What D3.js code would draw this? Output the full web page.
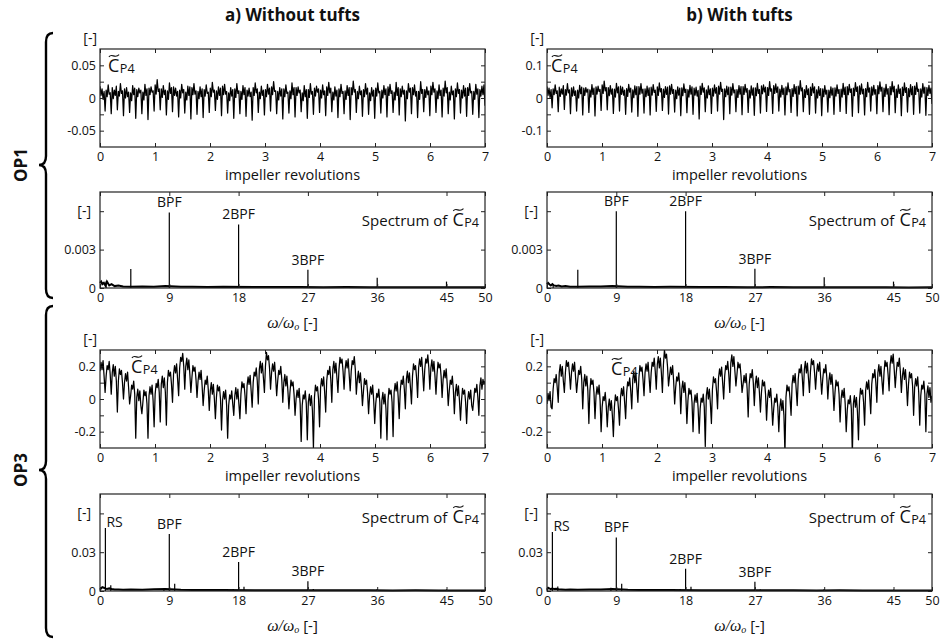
<!DOCTYPE html>
<html>
<head>
<meta charset="utf-8">
<script src="https://cdn.jsdelivr.net/npm/d3@7"></script>
<style>
  body { margin: 0; background: #fff; }
  text { font-family: 'Open Sans', 'Noto Sans', sans-serif; fill: #111; }
</style>
</head>
<body>
<svg id="chart" width="944" height="641"></svg>
<script>
// ---------- axis ticks ----------
const revTicks = [0, 1, 2, 3, 4, 5, 6, 7];
const freqTicks = [0, 9, 18, 27, 36, 45, 50];
const op1TimeTicksA = [-0.05, -0.025, 0, 0.025, 0.05];
const op1TimeLabelsA = [-0.05, 0, 0.05];
const op1TimeTicksB = [-0.1, -0.05, 0, 0.05, 0.1];
const op1TimeLabelsB = [-0.1, 0, 0.1];
const op3TimeTicks = [-0.2, -0.1, 0, 0.1, 0.2];
const op3TimeLabels = [-0.2, 0, 0.2];
const op1SpecTicks = [0, 0.003, 0.006];
const op1SpecLabels = [0, 0.003];
const op3SpecTicks = [0, 0.03, 0.06];
const op3SpecLabels = [0, 0.03];

// ---------- pressure coefficient signals (values in thousandths), 7 impeller revolutions ----------
const op1WithoutTufts = [
  18,4,14,-2,10,-20, 12,2,20,6,8,-24, 16,-1,12,4,18,-18, 10,3,22,7,11,-27, 14,0,16,2,9,-22, 8,-4,19,5,15,-31, 13,2,15,8,12,-24, 9,-3,21,4,14,-33, 15,5,17,9,11,-20,
  20,6,28,10,14,-18, 14,1,19,5,12,-26, 11,-2,23,7,16,-21, 17,4,15,3,10,-29, 12,0,21,8,13,-23, 9,-3,18,4,17,-32, 16,5,22,6,11,-25, 10,-1,17,2,14,-30, 13,3,20,7,9,-22,
  15,2,24,9,12,-19, 11,-2,17,4,15,-27, 18,5,21,6,10,-23, 8,-4,16,3,13,-31, 14,1,22,7,11,-24, 10,-2,19,5,16,-28, 12,3,15,2,9,-34, 16,4,23,8,14,-22, 9,-1,18,4,12,-26,
  13,2,21,6,15,-20, 17,5,25,10,11,-24, 10,-3,16,3,14,-32, 14,2,20,7,9,-23, 11,-1,23,5,16,-29, 16,4,17,8,12,-21, 8,-4,19,2,13,-31, 13,1,22,6,10,-25, 15,3,18,9,14,-22,
  12,0,20,5,11,-27, 17,4,24,8,15,-21, 9,-3,17,3,12,-30, 14,2,21,7,10,-24, 11,-2,19,4,16,-33, 16,5,26,9,13,-22, 10,-1,18,5,11,-28, 13,2,22,6,15,-25, 8,-4,16,3,12,-31,
  15,3,23,8,10,-23, 12,0,19,5,14,-29, 17,4,21,7,11,-22, 9,-3,24,4,16,-26, 14,2,18,6,12,-35, 11,-1,22,9,15,-24, 16,5,20,3,10,-30, 10,-2,25,7,13,-21, 13,1,17,5,11,-27,
  18,5,24,9,14,-22, 11,-1,20,4,12,-29, 15,3,26,8,16,-24, 9,-3,18,5,11,-32, 14,2,23,7,13,-23, 12,0,19,3,15,-28, 16,4,22,8,10,-25, 10,-2,21,6,14,-30, 13,3,18,5,20,-12
];
const op1WithTufts = [
  35,8,30,2,26,-30, 28,10,40,14,22,-42, 33,5,28,12,38,-35, 26,9,44,16,25,-48, 31,6,34,8,22,-40, 24,0,39,13,33,-52, 30,8,32,18,27,-44, 25,3,41,11,30,-55, 34,12,36,20,26,-38,
  40,14,52,22,32,-36, 32,7,38,12,28,-47, 27,3,45,16,34,-40, 36,11,33,9,24,-50, 29,5,42,18,30,-43, 25,1,37,10,35,-56, 35,12,44,15,27,-46, 28,4,36,8,31,-52, 33,9,41,17,24,-41,
  34,8,46,19,29,-38, 27,2,35,11,33,-49, 37,12,42,14,26,-43, 24,-2,34,9,30,-54, 31,7,43,17,27,-45, 26,3,39,12,34,-50, 30,9,33,6,23,-64, 36,11,45,18,31,-42, 25,0,37,10,28,-47,
  30,6,40,15,32,-40, 36,12,48,20,27,-66, 28,4,36,10,33,-48, 33,9,44,16,25,-42, 26,2,38,12,35,-51, 35,11,42,18,29,-44, 24,0,37,9,31,-53, 31,7,45,14,26,-46, 37,13,40,19,33,-41,
  32,8,50,21,28,-47, 38,14,43,17,34,-40, 27,3,39,11,30,-52, 34,10,46,19,26,-44, 29,5,41,13,35,-55, 36,12,53,22,31,-42, 26,2,38,10,28,-50, 33,8,44,16,34,-46, 25,0,35,8,29,-54,
  28,4,38,12,24,-43, 24,1,34,9,30,-50, 31,6,40,14,26,-41, 27,3,45,11,33,-47, 35,10,42,17,28,-56, 30,7,47,20,34,-45, 37,12,43,13,27,-52, 29,4,48,18,31,-40, 34,9,39,12,26,-48,
  38,13,49,21,33,-42, 30,5,42,12,29,-51, 35,10,50,19,36,-45, 27,2,40,14,28,-54, 33,8,46,17,32,-43, 29,4,41,10,35,-50, 36,11,47,20,27,-46, 28,3,44,15,33,-53, 32,8,39,14,30,-18
];
const op3WithoutTufts = [
  170,225,180,235,140,40, 140,205,180,230,150,30, 160,210,140,200,110,-80, 110,185,150,175,100,0, 100,155,110,165,70,-30, 20,85,60,110,30,-240, 10,60,-10,50,-40,-90, -20,55,20,45,-30,-240, 20,75,30,85,-10,-170,
  30,95,70,120,40,-140, 90,140,70,130,40,-160, 100,175,140,165,90,-20, 150,205,160,215,120,20, 190,255,230,280,200,60, 200,250,180,240,150,40, 130,205,170,195,120,10, 110,165,120,175,80,-40, 50,115,90,140,60,-70,
  50,100,30,90,0,-120, 10,85,50,75,0,-190, -10,45,0,55,-40,-240, -40,25,0,50,-30,-100, 20,70,0,60,-30,-120, 30,105,70,95,20,-90, 80,135,90,145,50,-50, 100,165,140,190,110,-30, 180,230,160,220,130,40,
  200,285,240,265,190,60, 160,215,170,225,130,20, 110,175,150,200,120,-20, 100,150,80,140,50,-60, 40,115,80,105,30,-100, 0,55,10,65,-30,-260, -40,25,0,50,-30,-250, -20,30,-40,20,-70,-300, 10,85,50,75,0,-170,
  70,125,80,135,40,-80, 110,175,150,200,120,-20, 180,230,160,220,130,40, 180,255,220,245,170,60, 180,235,190,245,150,50, 170,235,210,260,180,30, 120,170,100,160,70,-40, 50,125,90,115,40,-90, 20,75,30,85,-10,-150,
  -30,35,10,60,-20,-240, -10,40,-30,30,-60,-250, -10,65,30,55,-20,-230, 40,95,50,105,10,-120, 50,115,90,140,60,-60, 120,170,100,160,70,-30, 140,215,180,205,130,10, 190,245,200,255,160,50, 180,245,220,270,190,60,
  190,240,170,230,140,30, 150,225,190,215,140,10, 120,175,130,185,90,-40, 50,115,90,140,60,-90, 40,90,20,80,-10,-130, -10,65,30,55,-20,-150, -10,45,0,55,-40,-70, 0,65,40,90,10,-100, 80,130,60,120,90,110
];
const op3WithTufts = [
  -30,35,-10,45,-50,-60, 60,125,100,150,70,-20, 160,210,140,200,110,40, 160,235,200,225,150,60, 160,215,170,225,130,40, 110,175,150,200,120,-60, 100,150,80,140,50,-150, 50,125,90,115,40,-120, 20,75,30,85,-10,-200,
  -50,15,-10,40,-40,-170, -50,0,-70,-10,-100,-230, -50,25,-10,15,-60,-160, 10,65,20,75,-20,-120, 40,105,80,130,50,-60, 120,170,100,160,70,-20, 130,205,170,195,120,20, 160,215,170,225,130,40, 160,225,200,250,170,60,
  210,260,190,250,160,40, 210,300,250,275,200,80, 140,195,150,205,110,-30, 70,135,110,160,80,-90, 60,110,40,100,10,-150, -10,65,30,55,-20,-200, -30,25,-20,35,-60,-210, -60,5,-20,30,-50,-290, 20,70,0,60,-30,-150,
  60,135,100,125,50,-60, 130,185,140,195,100,0, 140,205,180,230,150,40, 220,270,200,260,170,80, 150,225,190,215,140,40, 90,145,100,155,60,-110, 90,155,130,180,100,-40, 90,140,70,130,40,-80, 40,115,80,105,30,-130,
  0,55,10,65,-30,-160, -60,5,-20,30,-50,-200, -50,0,-70,-10,-100,-330, 10,85,50,75,0,-100, 90,145,100,155,60,-40, 120,185,160,210,130,20, 180,230,160,220,130,40, 170,245,210,235,160,60, 160,215,170,225,130,30,
  120,185,160,210,130,0, 110,160,90,150,60,-70, 40,115,80,105,30,-140, 0,55,10,65,-30,-200, -70,-5,-30,20,-60,-340, -30,20,-50,10,-80,-250, -10,65,30,55,-20,-160, 50,105,60,115,20,-90, 90,155,130,180,100,-20,
  160,210,140,200,110,30, 160,235,200,225,150,50, 210,265,220,275,180,70, 160,225,200,250,170,40, 140,190,120,180,90,-40, 90,165,130,155,80,-100, 70,125,80,135,40,-160, 20,85,60,110,30,-200, 30,80,10,70,-20,20
];

// ---------- spectra ----------
const floorFreqs = [0, 0.15, 0.3, 0.5, 0.7, 0.9, 1.2, 1.5, 1.9, 2.4, 3, 4, 5.5, 7, 8.5, 10.5, 12, 14, 16, 20, 23, 26, 29, 32, 35, 38, 41, 44, 47, 50];
const op1FloorWithout = [0.0004, 0.0005, 0.0003, 0.0004, 0.0002, 0.0005, 0.0002, 0.0003, 0.00015, 0.0002, 0.00012, 0.0001, 0.00012, 0.0001, 0.00015, 0.0001, 0.0001, 0.00008, 0.0001, 0.00008, 0.00007, 0.00008, 0.00006, 0.00007, 0.00006, 0.00005, 0.00006, 0.00005, 0.00005, 0.00005];
const op1FloorWith = [0.0003, 0.0004, 0.0003, 0.0002, 0.0003, 0.0002, 0.00015, 0.0002, 0.00012, 0.00015, 0.0001, 0.0001, 0.00012, 0.00012, 0.00015, 0.0001, 0.0001, 0.00008, 0.00009, 0.00007, 0.00008, 0.00006, 0.00007, 0.00006, 0.00005, 0.00006, 0.00005, 0.00005, 0.00004, 0.00005];
const op3FloorWithout = [0.001, 0.002, 0.003, 0.0025, 0.002, 0.0015, 0.002, 0.0015, 0.0012, 0.0012, 0.001, 0.0012, 0.001, 0.0013, 0.0015, 0.0009, 0.0008, 0.0007, 0.0008, 0.0006, 0.0006, 0.0005, 0.0006, 0.0005, 0.0005, 0.0004, 0.0005, 0.0004, 0.0004, 0.0004];
const op3FloorWith = [0.001, 0.0025, 0.002, 0.0015, 0.002, 0.0015, 0.0018, 0.0013, 0.0012, 0.001, 0.0011, 0.001, 0.0012, 0.0012, 0.0016, 0.0009, 0.0008, 0.0008, 0.0007, 0.0006, 0.0005, 0.0006, 0.0005, 0.0005, 0.0004, 0.0005, 0.0004, 0.0004, 0.0004, 0.0004];

const op1PeakFreqs = [0.8, 4, 9, 18, 27, 36, 45];
const op1PeaksWithout = [0.0005, 0.00148, 0.0059, 0.00497, 0.00142, 0.00081, 0.0005];
const op1PeaksWith = [0.0003, 0.00142, 0.0060, 0.0060, 0.0015, 0.00084, 0.0005];
const op3PeakFreqs = [0.7, 1.4, 8.3, 9, 9.7, 17.3, 18, 18.7, 27, 27.7, 36, 45];
const op3PeaksWithout = [0.0487, 0.0045, 0.002, 0.044, 0.0056, 0.0015, 0.0225, 0.0033, 0.0076, 0.0015, 0.0015, 0.0012];
const op3PeaksWith = [0.0456, 0.0035, 0.0025, 0.0414, 0.0056, 0.0015, 0.0173, 0.0033, 0.0072, 0.0012, 0.0015, 0.001];

const op1PeakLabels = [{text: 'BPF', f: 9}, {text: '2BPF', f: 18}, {text: '3BPF', f: 27}];
const op3PeakLabels = [{text: 'RS', f: 0.7, side: true}, {text: 'BPF', f: 9}, {text: '2BPF', f: 18}, {text: '3BPF', f: 27}];

// ---------- layout ----------
const svg = d3.select('#chart');
const columns = [{ left: 100, right: 485 }, { left: 547, right: 932 }];
const rows = {
  op1Time: { top: 49, bottom: 147 },
  op1Spec: { top: 192, bottom: 288 },
  op3Time: { top: 350, bottom: 448 },
  op3Spec: { top: 494, bottom: 591 }
};
const tickFont = 12.5;

const fmtLabel = labels => v => labels.some(l => Math.abs(l - v) < 1e-9) ? String(v) : '';

function drawFrame(g, x, y, xTicks, yTicks, yLabels) {
  const [x0, x1] = x.range();
  const [yb, yt] = y.range();
  const setup = sel => { sel.select('.domain').remove(); sel.selectAll('line').attr('stroke', '#222'); sel.selectAll('text').style('font-size', tickFont + 'px').attr('fill', '#111'); };
  g.append('g').attr('transform', `translate(0,${yb})`)
    .call(d3.axisBottom(x).tickValues(xTicks).tickSize(-4).tickSizeOuter(0).tickPadding(5).tickFormat(d3.format('d'))).call(setup);
  g.append('g').attr('transform', `translate(0,${yt})`)
    .call(d3.axisTop(x).tickValues(xTicks).tickSize(-4).tickSizeOuter(0).tickFormat('')).call(setup);
  g.append('g').attr('transform', `translate(${x0},0)`)
    .call(d3.axisLeft(y).tickValues(yTicks).tickSize(-4).tickSizeOuter(0).tickPadding(4).tickFormat(fmtLabel(yLabels))).call(setup);
  g.append('g').attr('transform', `translate(${x1},0)`)
    .call(d3.axisRight(y).tickValues(yTicks).tickSize(-4).tickSizeOuter(0).tickFormat('')).call(setup);
  g.append('rect').attr('x', x0).attr('y', yt).attr('width', x1 - x0).attr('height', yb - yt)
    .attr('fill', 'none').attr('stroke', '#222').attr('stroke-width', 1.2);
}

// C with tilde and subscript P4; y is the baseline
function cpSymbol(g, x, y, size) {
  const grp = g.append('g').attr('transform', `translate(${x},${y})`);
  const c = grp.append('text').style('font-size', size + 'px').text('C');
  const cw = c.node().getComputedTextLength();
  grp.append('path')
    .attr('d', `M${cw * 0.08},${-size * 0.84} C${cw * 0.35},${-size * 1.08} ${cw * 0.6},${-size * 0.7} ${cw * 0.98},${-size * 0.96}`)
    .attr('fill', 'none').attr('stroke', '#111').attr('stroke-width', 1.1);
  const p = grp.append('text').attr('x', cw + 0.5).attr('y', 0.5).style('font-size', (size * 0.7) + 'px').text('P4');
  return cw + 0.5 + p.node().getComputedTextLength();
}

function unitLabel(g, x, y, anchor) {
  g.append('text').attr('x', x).attr('y', y).attr('text-anchor', anchor).style('font-size', '14px').text('[-]');
}

function timePanel(col, row, values, domain, ticks, labels, symbolPos) {
  const g = svg.append('g');
  const x = d3.scaleLinear().domain([0, 7]).range([col.left, col.right]);
  const y = d3.scaleLinear().domain(domain).range([row.bottom, row.top]);
  const id = `clip${col.left}_${row.top}`;
  svg.append('clipPath').attr('id', id).append('rect')
    .attr('x', col.left).attr('y', row.top).attr('width', col.right - col.left).attr('height', row.bottom - row.top);
  const n = values.length;
  const line = d3.line().x((d, i) => x(7 * i / (n - 1))).y(d => y(d / 1000));
  g.append('path').datum(values).attr('d', line).attr('clip-path', `url(#${id})`)
    .attr('fill', 'none').attr('stroke', '#000').attr('stroke-width', 1.25).attr('stroke-linejoin', 'round');
  drawFrame(g, x, y, revTicks, ticks, labels);
  g.append('text').attr('x', (col.left + col.right) / 2).attr('y', row.bottom + 33)
    .attr('text-anchor', 'middle').style('font-size', '14.5px').text('impeller revolutions');
  unitLabel(g, col.left - 3, row.top - 6, 'end');
  cpSymbol(g, col.left + symbolPos[0], row.top + symbolPos[1], 18);
}

function specPanel(col, row, floor, peakFreqs, peaks, domain, ticks, labels, peakLabels, yTop) {
  const g = svg.append('g');
  const x = d3.scaleLinear().domain([0, 50]).range([col.left, col.right]);
  const y = d3.scaleLinear().domain(domain).range([row.bottom, row.top]);
  const line = d3.line().x((d, i) => x(floorFreqs[i])).y(d => y(d));
  g.append('path').datum(floor).attr('d', line).attr('fill', 'none').attr('stroke', '#000').attr('stroke-width', 2);
  g.selectAll('line.peak').data(peaks).join('line').attr('class', 'peak')
    .attr('x1', (d, i) => x(peakFreqs[i])).attr('x2', (d, i) => x(peakFreqs[i]))
    .attr('y1', y(0)).attr('y2', d => y(d)).attr('stroke', '#000').attr('stroke-width', 1.2);
  drawFrame(g, x, y, freqTicks, ticks, labels);
  peakLabels.forEach(pl => {
    const amp = peaks[peakFreqs.indexOf(pl.f)];
    g.append('text')
      .attr('x', pl.side ? x(pl.f) + 1 : x(pl.f))
      .attr('y', pl.side ? y(amp) - 1 : y(amp) - 5)
      .attr('text-anchor', pl.side ? 'start' : 'middle')
      .style('font-size', '14px').text(pl.text);
  });
  // axis title: omega / omega_o [-]
  const t = g.append('text').attr('x', (col.left + col.right) / 2).attr('y', row.bottom + 40).attr('text-anchor', 'middle');
  t.append('tspan').style('font-family', "'Liberation Serif', serif").style('font-style', 'italic').style('font-size', '16px').text('ω/ω');
  t.append('tspan').style('font-family', "'Liberation Serif', serif").style('font-style', 'italic').style('font-size', '10px').attr('dy', 2).text('o');
  t.append('tspan').style('font-size', '15px').attr('dy', -2).text(' [-]');
  // unit label at top tick
  unitLabel(g, col.left - 9, y(ticks[ticks.length - 1]) + 5, 'end');
  // "Spectrum of C~P4" at the upper right
  const base = row.top + yTop;
  const tmp = g.append('g');
  const w = cpSymbol(tmp, 0, 0, 18);
  const sx = col.right - 6 - w;
  tmp.attr('transform', `translate(${sx},${base})`);
  g.append('text').attr('x', sx - 5).attr('y', base).attr('text-anchor', 'end').style('font-size', '15px').text('Spectrum of');
}

// ---------- panels ----------
const [colA, colB] = columns;
timePanel(colA, rows.op1Time, op1WithoutTufts, [-0.075, 0.075], op1TimeTicksA, op1TimeLabelsA, [8, 23]);
timePanel(colB, rows.op1Time, op1WithTufts, [-0.15, 0.15], op1TimeTicksB, op1TimeLabelsB, [4, 23]);
specPanel(colA, rows.op1Spec, op1FloorWithout, op1PeakFreqs, op1PeaksWithout, [0, 0.0075], op1SpecTicks, op1SpecLabels, op1PeakLabels, 34);
specPanel(colB, rows.op1Spec, op1FloorWith, op1PeakFreqs, op1PeaksWith, [0, 0.0075], op1SpecTicks, op1SpecLabels, op1PeakLabels, 34);
timePanel(colA, rows.op3Time, op3WithoutTufts, [-0.3, 0.3], op3TimeTicks, op3TimeLabels, [31, 23]);
timePanel(colB, rows.op3Time, op3WithTufts, [-0.3, 0.3], op3TimeTicks, op3TimeLabels, [64, 25]);
specPanel(colA, rows.op3Spec, op3FloorWithout, op3PeakFreqs, op3PeaksWithout, [0, 0.075], op3SpecTicks, op3SpecLabels, op3PeakLabels, 29);
specPanel(colB, rows.op3Spec, op3FloorWith, op3PeakFreqs, op3PeaksWith, [0, 0.075], op3SpecTicks, op3SpecLabels, op3PeakLabels, 29);

// ---------- column titles ----------
svg.append('text').attr('x', (colA.left + colA.right) / 2).attr('y', 21).attr('text-anchor', 'middle')
  .style('font-size', '17px').style('font-weight', 'bold').text('a) Without tufts');
svg.append('text').attr('x', (colB.left + colB.right) / 2).attr('y', 21).attr('text-anchor', 'middle')
  .style('font-size', '17px').style('font-weight', 'bold').text('b) With tufts');

// ---------- operating point braces ----------
function brace(y1, y2, ym) {
  const xr = 53, xm = 46, xt = 39, r = 9;
  return `M${xr},${y1} Q${xm},${y1} ${xm},${y1 + r} L${xm},${ym - r} Q${xm},${ym} ${xt},${ym} Q${xm},${ym} ${xm},${ym + r} L${xm},${y2 - r} Q${xm},${y2} ${xr},${y2}`;
}
[{ y1: 33, y2: 298, ym: 165, label: 'OP1' }, { y1: 306, y2: 637, ym: 470, label: 'OP3' }].forEach(b => {
  svg.append('path').attr('d', brace(b.y1, b.y2, b.ym)).attr('fill', 'none').attr('stroke', '#000').attr('stroke-width', 2.4);
  svg.append('text').attr('transform', `translate(27,${b.ym}) rotate(-90)`).attr('text-anchor', 'middle')
    .style('font-size', '17px').style('font-weight', 'bold').text(b.label);
});
</script>
</body>
</html>
